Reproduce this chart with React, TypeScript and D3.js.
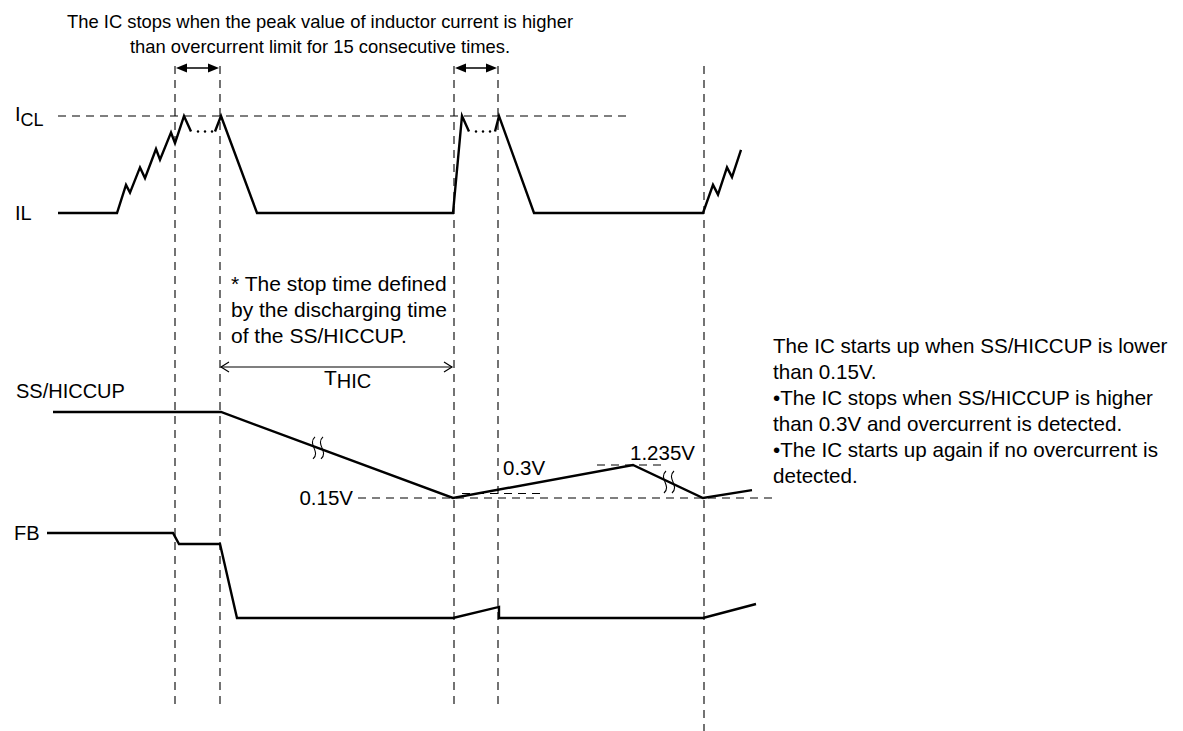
import React from "react";
import * as d3 from "d3";

type P = [number, number];

// Time marks (vertical dashed guides)
const EVENTS = [175, 220, 454, 498, 704];
const EVENT_ENDS = [710, 710, 710, 710, 731];

// IL (normalised: 0 = zero current, 1 = ICL)
const IL_A: P[] = [[58, 0], [117, 0], [126, 0.29], [130, 0.21], [140, 0.47], [145, 0.36], [156, 0.66], [160, 0.55], [171, 0.83], [175, 0.72], [184, 1], [191, 0.84]];
const IL_B: P[] = [[215, 0.84], [221, 1], [257, 0], [453, 0], [462, 1], [469, 0.84]];
const IL_C: P[] = [[495, 0.84], [499, 1], [534, 0], [703, 0], [713, 0.29], [718, 0.19], [727, 0.47], [732, 0.37], [741, 0.65]];
const IL_DOTS: number[] = [198, 205, 212, 476, 483, 490];
const IL_DOT_LEVEL = 0.84;

// SS/HICCUP voltage (V)
const SS: P[] = [[53, 2.98], [221, 2.98], [453, 0.15], [633, 1.235], [703, 0.15], [752, 0.41]];
const SS_SQUIGGLES = [318, 669];

// FB (normalised)
const FB: P[] = [[47, 1], [173, 1], [179, 0.87], [220, 0.87], [237, 0], [453, 0], [499, 0.13], [499, 0], [703, 0], [756, 0.165]];

// Reference levels: [level, tStart, tEnd, label]
const SS_REFS: [number, number, number, string][] = [
  [0.15, 358, 772, "0.15V"],
  [0.3, 462, 540, "0.3V"],
  [1.235, 597, 662, "1.235V"],
];
const ICL_REF: [number, number] = [58, 632];

const TOP_NOTE = [
  "The IC stops when the peak value of inductor current is higher",
  "than overcurrent limit for 15 consecutive times.",
];
const STOP_NOTE = ["* The stop time defined", "by the discharging time", "of the SS/HICCUP."];
const RIGHT_NOTE = [
  "The IC starts up when SS/HICCUP is lower",
  "than 0.15V.",
  "\u2022The IC stops when SS/HICCUP is higher",
  "than 0.3V and overcurrent is detected.",
  "\u2022The IC starts up again if no overcurrent is",
  "detected.",
];

const W = 1183;
const H = 731;
const FONT = "'Liberation Sans', Arial, sans-serif";

export default function App() {
  const x = d3.scaleLinear().domain([0, W]).range([0, W]);
  const yIL = d3.scaleLinear().domain([0, 1]).range([213, 116]);
  const ySS = d3.scaleLinear().domain([0.15, 1.235]).range([498, 465]);
  const yFB = d3.scaleLinear().domain([0, 1]).range([618, 533]);

  const lineIL = d3.line<P>().x((d) => x(d[0])).y((d) => yIL(d[1]));
  const lineSS = d3.line<P>().x((d) => x(d[0])).y((d) => ySS(d[1]));
  const lineFB = d3.line<P>().x((d) => x(d[0])).y((d) => yFB(d[1]));

  const ssAt = (t: number) => {
    for (let i = 0; i < SS.length - 1; i++) {
      const [t0, v0] = SS[i];
      const [t1, v1] = SS[i + 1];
      if (t >= t0 && t <= t1) return v0 + ((t - t0) / (t1 - t0)) * (v1 - v0);
    }
    return SS[SS.length - 1][1];
  };

  const sig = { fill: "none", stroke: "#000", strokeWidth: 2.4, strokeLinejoin: "miter" as const };
  const dash = { stroke: "#000", strokeWidth: 1.1, strokeDasharray: "8,6", fill: "none" };

  const squiggle = (cx: number, cy: number) => {
    const h = 11;
    const one = (xx: number) =>
      `M${xx + 1},${cy - h} C${xx - 7},${cy - h / 3} ${xx + 7},${cy + h / 3} ${xx - 1},${cy + h}`;
    return one(cx - 4) + " " + one(cx + 4);
  };

  const arrowTop = (x1: number, x2: number, y: number) => (
    <g>
      <line x1={x(x1) + 9} x2={x(x2) - 9} y1={y} y2={y} stroke="#000" strokeWidth={1.5} />
      <path d={`M${x(x1) + 1},${y} L${x(x1) + 12},${y - 4.5} L${x(x1) + 12},${y + 4.5} Z`} fill="#000" />
      <path d={`M${x(x2) - 1},${y} L${x(x2) - 12},${y - 4.5} L${x(x2) - 12},${y + 4.5} Z`} fill="#000" />
    </g>
  );

  return (
    <svg width={W} height={H} style={{ position: "fixed", left: 0, top: 0, background: "#fff" }} fontFamily={FONT}>
      <rect width={W} height={H} fill="#fff" />
      {/* top note */}
      {TOP_NOTE.map((t, i) => (
        <text key={i} x={320} y={28 + i * 25} fontSize={18.4} textAnchor="middle" fill="#000">{t}</text>
      ))}

      {/* vertical guides */}
      {EVENTS.map((t, i) => (
        <line key={i} x1={x(t)} x2={x(t)} y1={66} y2={EVENT_ENDS[i]} {...dash} />
      ))}

      {arrowTop(EVENTS[0], EVENTS[1], 68)}
      {arrowTop(EVENTS[2], EVENTS[3], 68)}

      {/* ICL ref */}
      <line x1={x(ICL_REF[0])} x2={x(ICL_REF[1])} y1={yIL(1)} y2={yIL(1)} {...dash} />

      {/* labels */}
      <text x={15} y={121} fontSize={20} fill="#000">I<tspan fontSize={18} dy={5}>CL</tspan></text>
      <text x={15} y={220} fontSize={20} fill="#000">IL</text>
      <text x={16} y={398} fontSize={20} fill="#000">SS/HICCUP</text>
      <text x={14} y={540} fontSize={20} fill="#000">FB</text>

      {/* IL */}
      <path d={lineIL(IL_A) || ""} {...sig} />
      <path d={lineIL(IL_B) || ""} {...sig} />
      <path d={lineIL(IL_C) || ""} {...sig} />
      {IL_DOTS.map((t, i) => (
        <circle key={i} cx={x(t)} cy={yIL(IL_DOT_LEVEL)} r={1.2} fill="#000" />
      ))}

      {/* stop note */}
      {STOP_NOTE.map((t, i) => (
        <text key={i} x={231} y={291 + i * 26} fontSize={21} fill="#000">{t}</text>
      ))}

      {/* THIC arrow */}
      <line x1={x(EVENTS[1]) + 1} x2={x(EVENTS[2]) - 2} y1={367} y2={367} stroke="#000" strokeWidth={1.2} />
      <path d={`M${x(EVENTS[1]) + 9},${362} L${x(EVENTS[1]) + 1},${367} L${x(EVENTS[1]) + 9},${372}`} fill="none" stroke="#000" strokeWidth={1.2} />
      <path d={`M${x(EVENTS[2]) - 10},${362} L${x(EVENTS[2]) - 2},${367} L${x(EVENTS[2]) - 10},${372}`} fill="none" stroke="#000" strokeWidth={1.2} />
      <text x={324} y={385} fontSize={21} fill="#000">T<tspan fontSize={20} dy={3}>HIC</tspan></text>

      {/* SS refs */}
      {SS_REFS.map(([v, t0, t1], i) => (
        <line key={i} x1={x(t0)} x2={x(t1)} y1={ySS(v)} y2={ySS(v)} {...dash} />
      ))}
      <text x={353} y={505} fontSize={20.5} textAnchor="end" fill="#000">{SS_REFS[0][3]}</text>
      <text x={503} y={475} fontSize={20.5} fill="#000">{SS_REFS[1][3]}</text>
      <text x={630} y={460} fontSize={20.5} fill="#000">{SS_REFS[2][3]}</text>

      {/* SS */}
      <path d={lineSS(SS) || ""} {...sig} />
      {SS_SQUIGGLES.map((t, i) => (
        <path key={i} d={squiggle(x(t), ySS(ssAt(t)))} fill="none" stroke="#000" strokeWidth={1.1} />
      ))}

      {/* FB */}
      <path d={lineFB(FB) || ""} {...sig} />

      {/* right note */}
      {RIGHT_NOTE.map((t, i) => (
        <text key={i} x={773} y={353 + i * 26} fontSize={20.6} fill="#000">{t}</text>
      ))}
    </svg>
  );
}
